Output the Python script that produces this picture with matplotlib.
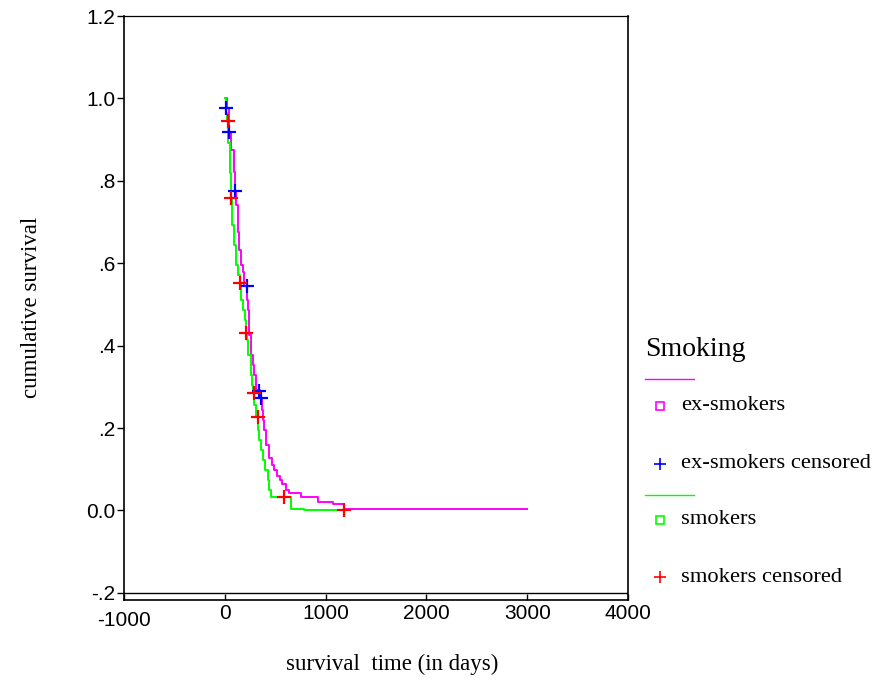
import numpy as np
import matplotlib
matplotlib.use('Agg')
import matplotlib.pyplot as plt
from matplotlib.lines import Line2D

# Kaplan-Meier steps (time in days, cumulative survival)
ex_t = [0, 20, 40, 60, 89, 99, 109, 129, 139, 159, 179, 188, 218, 228, 238, 258, 278, 288,
        308, 347, 367, 377, 387, 407, 437, 466, 486, 516, 546, 565, 605, 635, 754, 923,
        1071, 1181, 2996]
ex_s = [1.0, 0.977, 0.919, 0.875, 0.822, 0.776, 0.742, 0.676, 0.632, 0.596, 0.579, 0.545,
        0.511, 0.487, 0.426, 0.377, 0.353, 0.329, 0.292, 0.273, 0.244, 0.220, 0.195, 0.159,
        0.127, 0.110, 0.098, 0.084, 0.074, 0.064, 0.050, 0.042, 0.033, 0.021, 0.016, 0.004,
        0.004]

sm_t = [0, 10, 20, 35, 50, 60, 69, 89, 109, 129, 149, 159, 179, 198, 208, 218, 228, 258,
        268, 278, 288, 308, 330, 340, 357, 377, 397, 427, 437, 456, 660, 785, 1180]
sm_s = [1.0, 0.965, 0.945, 0.892, 0.819, 0.759, 0.693, 0.644, 0.596, 0.572, 0.552, 0.511,
        0.487, 0.462, 0.431, 0.414, 0.377, 0.329, 0.305, 0.285, 0.256, 0.227, 0.195, 0.171,
        0.147, 0.123, 0.098, 0.074, 0.050, 0.033, 0.004, 0.0, 0.0]

ex_cens_t = [10, 40, 100, 216, 340, 360]
ex_cens_s = [0.977, 0.919, 0.776, 0.545, 0.290, 0.273]
sm_cens_t = [30, 60, 150, 210, 285, 325, 585, 1180]
sm_cens_s = [0.945, 0.759, 0.552, 0.431, 0.285, 0.227, 0.033, 0.0]

yticks = [-0.2, 0.0, 0.2, 0.4, 0.6, 0.8, 1.0, 1.2]
ytick_labels = ['-.2', '0.0', '.2', '.4', '.6', '.8', '1.0', '1.2']
xticks = [-1000, 0, 1000, 2000, 3000, 4000]
xtick_labels = ['-1000', '0', '1000', '2000', '3000', '4000']

W, H = 894, 680
sans = 'Liberation Sans'
serif = 'Liberation Serif'

fig = plt.figure(figsize=(W / 100, H / 100), dpi=100)
ax = fig.add_axes([124 / W, 1 - 600 / H, 504 / W, 584 / H])

ax.step(ex_t, ex_s, where='post', color='#ff00ff', lw=1.4)
ax.step(sm_t, sm_s, where='post', color='#00ff00', lw=1.4)
ax.plot(ex_cens_t, ex_cens_s, '+', color='#0000ff', ms=10, mew=1.6)
ax.plot(sm_cens_t, sm_cens_s, '+', color='#ff0000', ms=10, mew=1.6)

ax.set_xlim(-1000, 4000)
ax.set_ylim(-0.2174, 1.2)
ax.axhline(-0.2, color='black', lw=1.0)

ax.set_yticks(yticks, labels=ytick_labels)
ax.set_xticks(xticks, labels=xtick_labels)
ax.tick_params(axis='y', direction='out', length=5, width=1, pad=1, labelsize=15)
ax.tick_params(axis='x', direction='in', length=4.5, width=1, pad=3, labelsize=15)
for lab in ax.get_xticklabels() + ax.get_yticklabels():
    lab.set_fontfamily(sans)
ax.get_xticklabels()[0].set_y(-0.012)

for side in ['left', 'bottom', 'right']:
    ax.spines[side].set_linewidth(1.2)
ax.spines['top'].set_linewidth(0.9)

fig.text(392 / W, 1 - 664 / H, 'survival  time (in days)', fontfamily=serif,
         fontsize=16.5, ha='center', va='center')
fig.text(32 / W, 1 - 307 / H, 'cumulative survival', fontfamily=serif,
         fontsize=16.5, ha='center', va='center', rotation=90)

# legend, drawn by hand
def fx(x):
    return x / W

def fy(y):
    return 1 - y / H

fig.text(fx(645), fy(350), 'Smoking', fontfamily=serif, fontsize=20, va='center')
legend_rows = [
    ('line', 379, '#ff00ff', None),
    ('s', 406, '#ff00ff', 'ex-smokers'),
    ('+', 464, '#0000ff', 'ex-smokers censored'),
    ('line', 495, '#00ff00', None),
    ('s', 520, '#00ff00', 'smokers'),
    ('+', 577, '#ff0000', 'smokers censored'),
]
for kind, y, col, text in legend_rows:
    if kind == 'line':
        fig.add_artist(Line2D([fx(645), fx(694)], [fy(y), fy(y)], color=col, lw=1.0,
                              transform=fig.transFigure))
    else:
        if kind == 's':
            fig.add_artist(Line2D([fx(660)], [fy(y)], marker='s', ms=5.5, mfc='none',
                                  mec=col, mew=1.2, ls='none', transform=fig.transFigure))
        else:
            fig.add_artist(Line2D([fx(660)], [fy(y)], marker='+', ms=9, mec=col,
                                  mew=1.2, ls='none', transform=fig.transFigure))
        fig.text(fx(681), fy(y), text, fontfamily=serif, fontsize=16.2, va='center')

plt.savefig('out.png', dpi=100)
